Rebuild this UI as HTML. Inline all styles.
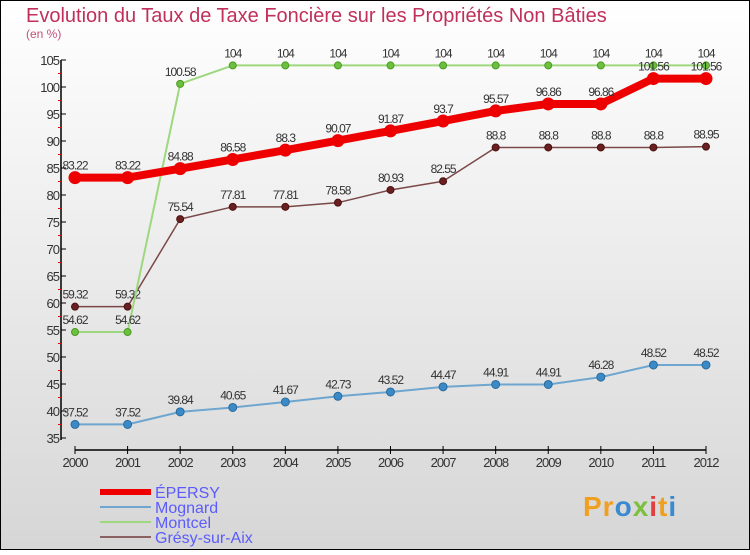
<!DOCTYPE html>
<html><head><meta charset="utf-8"><style>
body{margin:0}
#c{width:750px;height:550px;position:relative;font-family:"Liberation Sans",sans-serif}
</style></head><body>
<div id="c">
<svg id="s" width="750" height="550" xmlns="http://www.w3.org/2000/svg">
<defs><linearGradient id="bg" x1="0" y1="0" x2="0" y2="1"><stop offset="0" stop-color="#ffffff"/><stop offset="1" stop-color="#d6d6d6"/></linearGradient></defs>
<rect x="0.5" y="0.5" width="749" height="549" fill="url(#bg)" stroke="#000"/>
<text x="26" y="22" font-size="20" fill="#c0305a">Evolution du Taux de Taxe Foncière sur les Propriétés Non Bâties</text>
<text x="26" y="38" font-size="12" fill="#c0507a">(en %)</text>
<g id="axes"></g><g id="series"></g>
<g font-size="16" fill="#5b5bff">
<line x1="100" y1="492" x2="151" y2="492" stroke="#ee0000" stroke-width="6"/>
<text x="155" y="498">ÉPERSY</text>
<line x1="100" y1="507" x2="151" y2="507" stroke="#6ea6cf" stroke-width="2"/>
<text x="155" y="513">Mognard</text>
<line x1="100" y1="522" x2="151" y2="522" stroke="#9ed87e" stroke-width="2"/>
<text x="155" y="528">Montcel</text>
<line x1="100" y1="537" x2="151" y2="537" stroke="#8b6060" stroke-width="2"/>
<text x="155" y="543">Grésy-sur-Aix</text>
</g>
<text x="583" y="516" font-size="28" font-weight="bold" fill="#f0a020" letter-spacing="1">Pr<tspan fill="#3a8ad0">o</tspan><tspan fill="#7cc040">x</tspan><tspan fill="#e04040">i</tspan><tspan fill="#f0a020">t</tspan><tspan fill="#3a8ad0">i</tspan></text>
</svg></div>
<script>
const years=[2000,2001,2002,2003,2004,2005,2006,2007,2008,2009,2010,2011,2012];
const yTicks=[35,40,45,50,55,60,65,70,75,80,85,90,95,100,105];
const epersy=[83.22,83.22,84.88,86.58,88.3,90.07,91.87,93.7,95.57,96.86,96.86,101.56,101.56];
const mognard=[37.52,37.52,39.84,40.65,41.67,42.73,43.52,44.47,44.91,44.91,46.28,48.52,48.52];
const montcel=[54.62,54.62,100.58,104,104,104,104,104,104,104,104,104,104];
const gresy=[59.32,59.32,75.54,77.81,77.81,78.58,80.93,82.55,88.8,88.8,88.8,88.8,88.95];
const NS="http://www.w3.org/2000/svg";
const X=i=>75+i*(706-75)/12, Y=v=>60+(105-v)*5.4;
function mk(t,a,p){const e=document.createElementNS(NS,t);for(const k in a)e.setAttribute(k,a[k]);p.appendChild(e);return e;}
const ax=document.getElementById('axes'), sg=document.getElementById('series');
let e=mk('line',{x1:61,y1:60,x2:61,y2:440,stroke:'#000','stroke-width':1.5},ax);


yTicks.forEach(v=>{
 let t=mk('line',{x1:61,y1:Y(v),x2:66,y2:Y(v),stroke:'#000'},ax);
 
 
 if(v<105){let m=mk('line',{x1:58,y1:Y(v+2.5),x2:61,y2:Y(v+2.5),stroke:'#e00'},ax);
 
 }
 let l=mk('text',{x:59,y:Y(v)+5,'text-anchor':'end','font-size':13,fill:'#333','letter-spacing':'-1'},ax);l.textContent=v;
 
 
});
e=mk('line',{x1:75,y1:450,x2:706,y2:450,stroke:'#000','stroke-width':1.5},ax);


years.forEach((y,i)=>{
 let t=mk('line',{x1:X(i),y1:446,x2:X(i),y2:454,stroke:'#000'},ax);
 
 
 let l=mk('text',{x:X(i),y:467,'text-anchor':'middle','font-size':13,fill:'#333','letter-spacing':'-1'},ax);l.textContent=y;
 
 
});
function series(name,d,col,w,r,dot,dotStroke){
 const g=mk('g',{},sg);
 
 
 const p=mk('polyline',{points:d.map((v,i)=>X(i)+','+Y(v)).join(' '),fill:'none',stroke:col,'stroke-width':w,'stroke-linejoin':'round'},g);
 
 
 d.forEach((v,i)=>{
  const c=mk('circle',{cx:X(i),cy:Y(v),r:r,fill:dot,stroke:dotStroke,'stroke-width':1},g);
  
  
  const t=mk('text',{x:X(i),y:Y(v)-8,'text-anchor':'middle','font-size':12,fill:'#333','letter-spacing':'-1'},g);t.textContent=v;
  
  
 });
}
series('mognard',mognard,'#6ea6cf',2,4,'#3a8ac8','#2a6a9a');
series('gresy',gresy,'#7a4848',1.5,3.5,'#6a2020','#4a1010');
series('montcel',montcel,'#9ed87e',2,3.5,'#6cc040','#4a9a20');
series('epersy',epersy,'#ee0000',8,6,'#ee0000','#ee0000');
</script>
</body></html>
